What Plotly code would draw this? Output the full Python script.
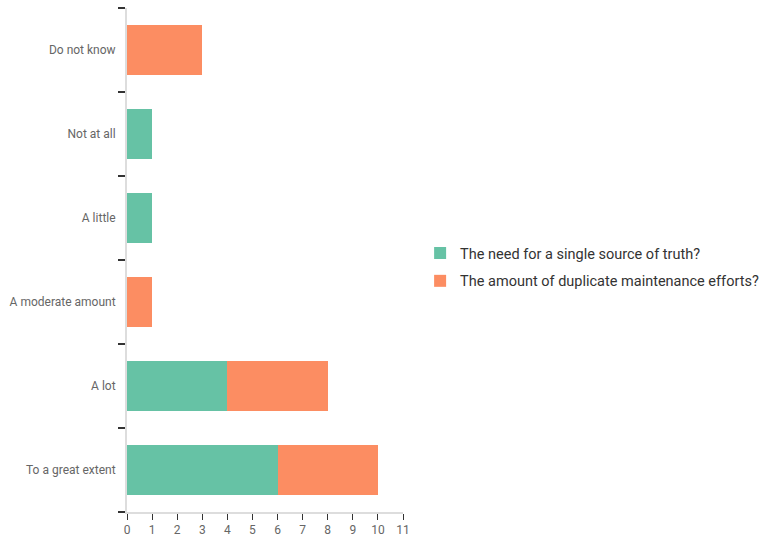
import plotly.graph_objects as go

# Survey responses (bottom to top)
categories = ["To a great extent", "A lot", "A moderate amount",
              "A little", "Not at all", "Do not know"]
single_source = [6, 4, 0, 1, 1, 0]
duplicate_effort = [4, 4, 1, 0, 0, 3]
series_names = ["The need for a single source of truth?",
                "The amount of duplicate maintenance efforts?"]
x_ticks = list(range(0, 12))

fig = go.Figure()
fig.add_trace(go.Bar(y=categories, x=single_source, orientation="h",
                     name=series_names[0], marker_color="#66c2a5",
                     marker_line_width=0, legendgroup="a"))
fig.add_trace(go.Bar(y=categories, x=duplicate_effort, orientation="h",
                     name=series_names[1], marker_color="#fc8d62",
                     marker_line_width=0, legendgroup="b"))

fig.update_layout(
    barmode="stack",
    bargap=0.4,
    width=763, height=536,
    margin=dict(l=127, r=360, t=8, b=24, autoexpand=False),
    plot_bgcolor="white", paper_bgcolor="white",
    font=dict(family="Roboto", size=12, color="#666"),
    legend=dict(x=1.062, xanchor="left", y=0.486, yanchor="middle",
                font=dict(size=14.5, color="#333"), itemwidth=30,
                traceorder="grouped", tracegroupgap=6),
    showlegend=True,
)
fig.update_xaxes(range=[0, 11], tickvals=x_ticks, showgrid=False,
                 zeroline=False, showline=True, linecolor="#ddd", linewidth=2,
                 ticks="outside", ticklen=6, tickcolor="#333", tickwidth=1,
                 tickfont=dict(size=12, color="#666"), automargin=False)
fig.update_yaxes(categoryorder="array", categoryarray=categories,
                 showgrid=False, zeroline=False, showline=True,
                 linecolor="#ddd", linewidth=2, ticks="outside",
                 tickson="boundaries", ticklen=7, tickcolor="#333",
                 tickwidth=1.5, tickfont=dict(size=12, color="#666"),
                 ticklabelstandoff=7, automargin=False)

fig.write_html("out.html")
